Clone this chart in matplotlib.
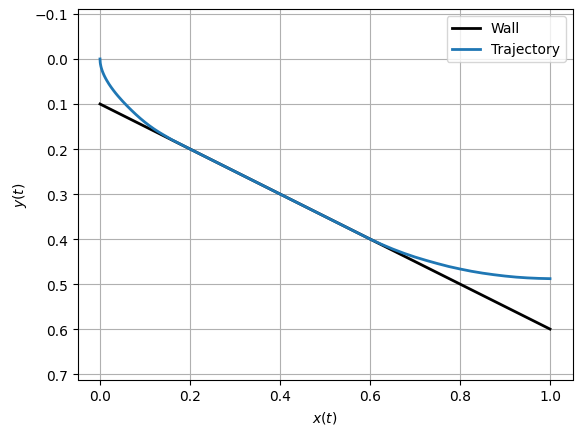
import matplotlib
matplotlib.use("Agg")
import matplotlib.pyplot as plt

wall_x = [0.0, 1.0]
wall_y = [0.1, 0.6]

traj_x = [0.0, 0.0005, 0.001, 0.002, 0.003, 0.0045, 0.006, 0.008, 0.01, 0.0125, 0.015,
          0.02, 0.025, 0.03, 0.035, 0.04, 0.05, 0.06, 0.07, 0.08, 0.09, 0.10, 0.11,
          0.12, 0.13, 0.14, 0.15, 0.16, 0.18, 0.2, 0.3, 0.4, 0.5, 0.6,
          0.625, 0.65, 0.675, 0.7, 0.725, 0.75, 0.775, 0.8, 0.825, 0.85, 0.875,
          0.9, 0.925, 0.95, 0.975, 1.0]
traj_y = [0.0, 0.0080, 0.0114, 0.0163, 0.0202, 0.0250, 0.0291, 0.0339, 0.0382, 0.0431,
          0.0476, 0.0558, 0.0631, 0.0699, 0.0763, 0.0823, 0.0936, 0.1041, 0.1140, 0.1235,
          0.1324, 0.1407, 0.1484, 0.1555, 0.1620, 0.1680, 0.1738, 0.1796, 0.1898, 0.2000,
          0.25, 0.30, 0.35, 0.40,
          0.4115, 0.4220, 0.4315, 0.4400, 0.4475, 0.4545, 0.4610, 0.4665, 0.4715, 0.4757,
          0.4792, 0.4822, 0.4846, 0.4863, 0.4874, 0.4880]

fig = plt.figure(figsize=(5.82, 4.35), dpi=100)
ax = fig.add_axes([77.5 / 582, 1 - 380.5 / 435, 495 / 582, 370.5 / 435])
ax.plot(wall_x, wall_y, color="black", lw=2, label="Wall")
ax.plot(traj_x, traj_y, color="#1f77b4", lw=2, label="Trajectory")
ax.set_xlim(-0.05, 1.05)
ax.set_ylim(0.712, -0.111)
ax.set_xlabel("$x(t)$")
ax.set_ylabel("$y(t)$")
ax.grid(True)
ax.legend(loc="upper right")
fig.savefig("out.png", dpi=100)
